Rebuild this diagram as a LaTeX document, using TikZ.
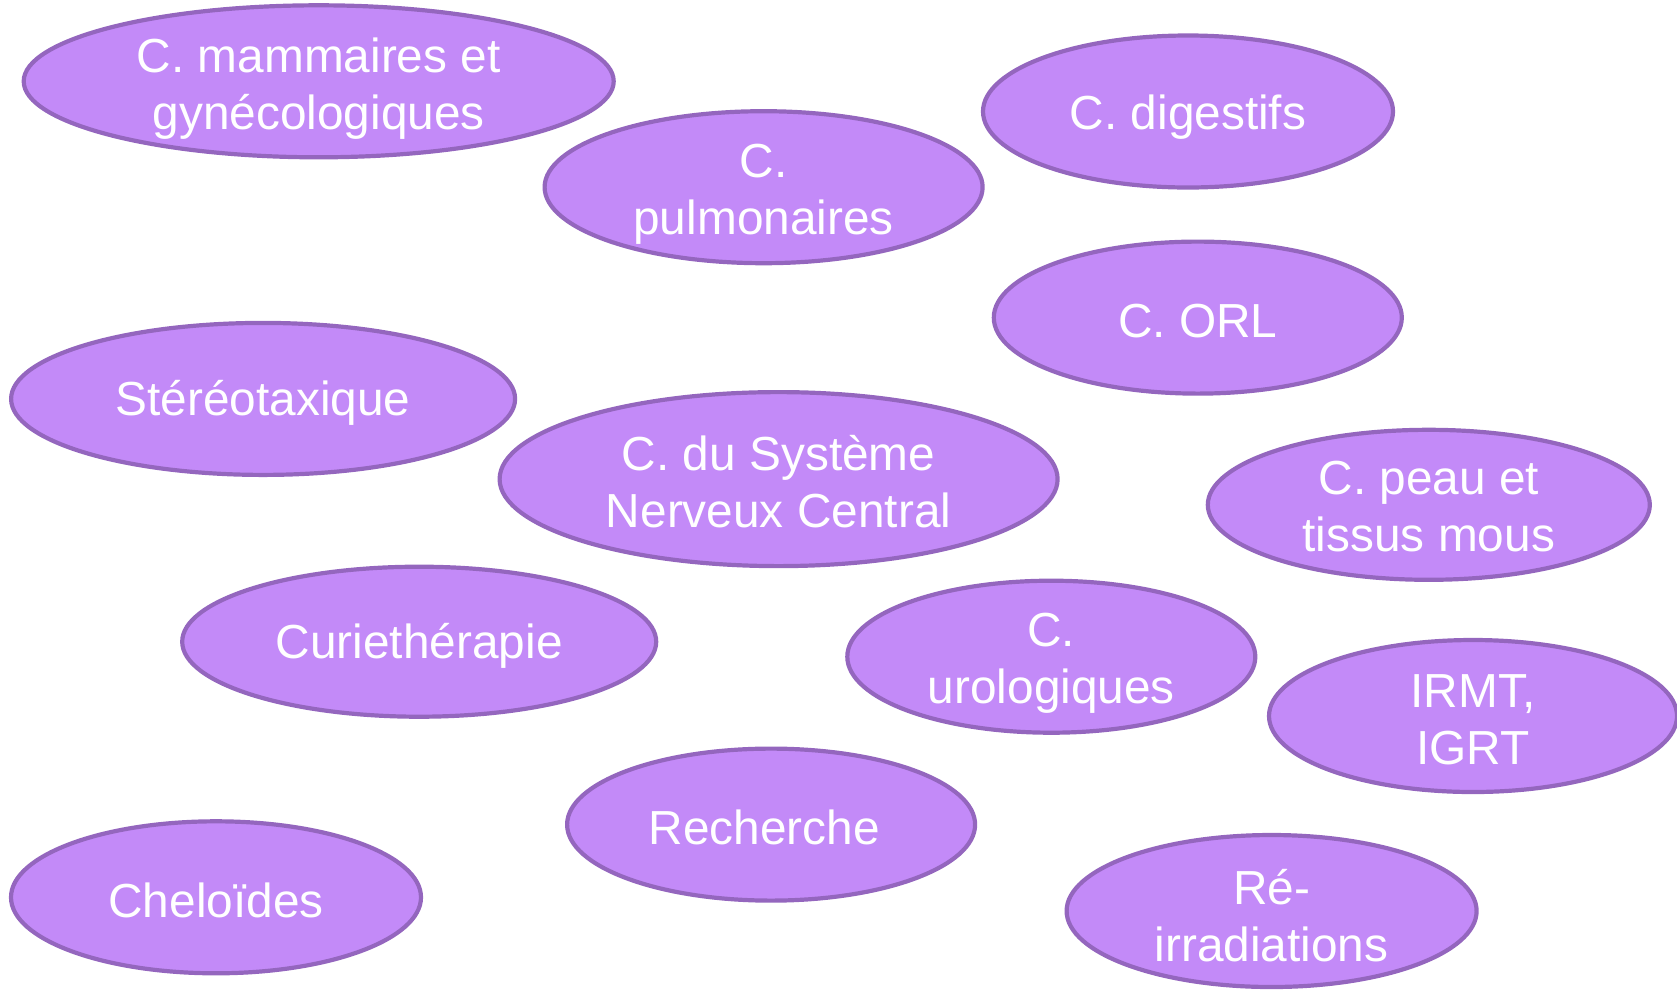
\documentclass[tikz,border=0pt]{standalone}
\usepackage{fontspec}
\setmainfont{Liberation Sans}
\usetikzlibrary{shapes.geometric}
\definecolor{bubfill}{HTML}{C38AF8}
\definecolor{bubdraw}{HTML}{9466BE}
\tikzset{
  bubble/.style={ellipse, draw=bubdraw, fill=bubfill, line width=4.2pt,
    inner sep=0pt, outer sep=0pt},
  bubtext/.style={inner sep=0pt, text=white, align=center,
    font=\fontsize{47.8pt}{57pt}\selectfont},
}
\begin{document}
\begin{tikzpicture}[x=1pt,y=-1pt]
\useasboundingbox (0,0) rectangle (1677,989);
\node[bubble, minimum width=590pt, minimum height=152pt] (mam) at (318.7,81.3) {};
\node[bubble, minimum width=438pt, minimum height=152pt] (pul) at (763.6,187.2) {};
\node[bubble, minimum width=410pt, minimum height=152pt] (dig) at (1188,111.5) {};
\node[bubble, minimum width=408pt, minimum height=152pt] (orl) at (1197.8,317.6) {};
\node[bubble, minimum width=504pt, minimum height=152pt] (ste) at (263.1,398.9) {};
\node[bubble, minimum width=558pt, minimum height=174pt] (snc) at (778.6,479.1) {};
\node[bubble, minimum width=442pt, minimum height=150pt] (pea) at (1428.8,504.8) {};
\node[bubble, minimum width=474pt, minimum height=150pt] (cur) at (419.2,641.7) {};
\node[bubble, minimum width=408pt, minimum height=152pt] (uro) at (1051.3,656.7) {};
\node[bubble, minimum width=408pt, minimum height=152pt] (irm) at (1473,716) {};
\node[bubble, minimum width=408pt, minimum height=152pt] (rec) at (771.1,824.6) {};
\node[bubble, minimum width=410pt, minimum height=152pt] (che) at (216,897.3) {};
\node[bubble, minimum width=410pt, minimum height=152pt] (rei) at (1271.6,911) {};
\node[bubtext, yshift=-7pt] (mamt) at (mam) {C. mammaires et\\gynécologiques};
\node[bubtext, yshift=-7pt] (pult) at (pul) {C.\\pulmonaires};
\node[bubtext, yshift=-6pt] (digt) at (dig) {C. digestifs};
\node[bubtext, yshift=-3pt] (orlt) at (orl) {C. ORL};
\node[bubtext, yshift=-4pt] (stet) at (ste) {Stéréotaxique};
\node[bubtext, yshift=-3pt] (snct) at (snc) {C. du Système\\Nerveux Central};
\node[bubtext, yshift=-2pt] (peat) at (pea) {C. peau et\\tissus mous};
\node[bubtext, yshift=-4pt] (curt) at (cur) {Curiethérapie};
\node[bubtext, yshift=-7pt] (urot) at (uro) {C.\\urologiques};
\node[bubtext, yshift=-4pt] (irmt) at (irm) {IRMT,\\IGRT};
\node[bubtext, yshift=-3pt, xshift=-7pt] (rect) at (rec) {Recherche};
\node[bubtext, yshift=-3pt] (chet) at (che) {Cheloïdes};
\node[bubtext, yshift=-5pt] (reit) at (rei) {Ré-\\irradiations};
\end{tikzpicture}
\end{document}
